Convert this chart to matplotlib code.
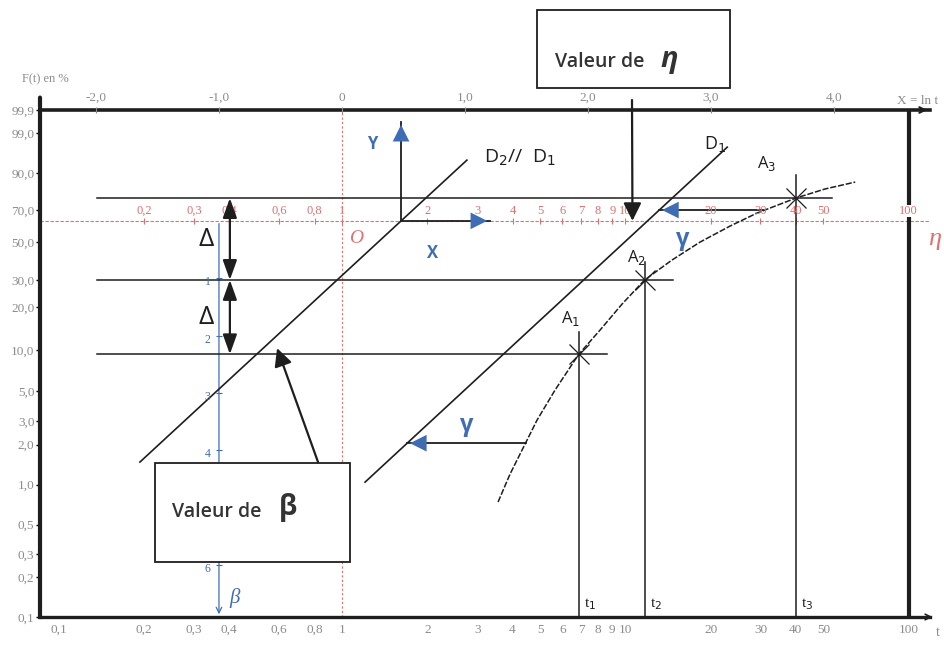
import numpy as np
import matplotlib.pyplot as plt
from matplotlib.patches import Rectangle
from matplotlib.ticker import NullLocator

plt.rcParams['font.family'] = ['Liberation Serif', 'DejaVu Serif']
plt.rcParams['mathtext.fontset'] = 'dejavusans'

GREY = '#8c8c8c'
RED = '#e07070'
BLUE = '#3f6db5'
INK = '#1e1e1e'
SANS = ['Open Sans', 'DejaVu Sans']

W, H = 944, 653


# Weibull paper: X = ln t (log axis), Y = ln(-ln(1 - F))
def weib(F):
    F = np.clip(np.asarray(F, dtype=float), 1e-6, 100 - 1e-6) / 100
    return np.log(-np.log(1 - F))


def weib_inv(Y):
    with np.errstate(over='ignore'):
        return 100 * (1 - np.exp(-np.exp(np.asarray(Y, dtype=float))))


# axis graduations
t_ticks = [0.1, 0.2, 0.3, 0.4, 0.6, 0.8, 1, 2, 3, 4, 5, 6, 7, 8, 9, 10, 20, 30, 40, 50, 100]
t_labels = ['0,1', '0,2', '0,3', '0,4', '0,6', '0,8', '1', '2', '3', '4', '5', '6', '7',
            '8', '9', '10', '20', '30', '40', '50', '100']
F_ticks = [0.1, 0.2, 0.3, 0.5, 1, 2, 3, 5, 10, 20, 30, 50, 70, 90, 99, 99.9]
F_labels = ['0,1', '0,2', '0,3', '0,5', '1,0', '2,0', '3,0', '5,0', '10,0', '20,0', '30,0',
            '50,0', '70,0', '90,0', '99,0', '99,9']
X_ticks = [-2, -1, 0, 1, 2, 3, 4]
X_labels = ['-2,0', '-1,0', '0', '1,0', '2,0', '3,0', '4,0']
eta_ticks = [0.2, 0.3, 0.4, 0.6, 0.8, 1, 2, 3, 4, 5, 6, 7, 8, 9, 10, 20, 30, 40, 50, 100]
eta_labels = ['0,2', '0,3', '0,4', '0,6', '0,8', '1', '2', '3', '4', '5', '6', '7', '8',
              '9', '10', '20', '30', '40', '50', '100']
beta_ticks = [1, 2, 3, 4, 5, 6]
beta_labels = ['1', '2', '3', '4', '', '6']   # 5 sits under the beta box

# points A1..A3 with their reading lines
A_t = [6.85, 11.7, 40.0]
A_F = [9.3, 30.0, 77.4]
A_top = [13.4, 38.6, 89.2]
guide_start = 0.136
guide_end = [8.6, 14.7, 53.7]
A_offsets = [(-6, 26), (-6, 16), (-21, 25)]

# raw curve through the points
curve_t = [3.555, 3.919, 4.356, 4.881, 5.650, 6.85, 8.147, 9.742, 11.7, 14.6, 18.37,
           23.44, 29.19, 40.0, 50.7, 64.8]
curve_F = [0.740, 1.202, 1.885, 3.053, 5.099, 9.3, 13.84, 20.90, 30.0, 39.6, 49.9,
           59.88, 68.2, 77.4, 82.5, 86.0]

# corrected line D1 and its parallel D2
D1_t = [1.206, 22.9]
D1_F = [1.045, 97.3]
D2_t = [0.1935, 2.76]
D2_F = [1.48, 94.4]

# gamma shifts (from the curve back to D1)
gamma_t = [4.45, 30.5]
gamma_F = [2.05, 70.1]

eta_F = 100 * (1 - np.exp(-1))   # 63.2 %
eta_read = 10.6
origin_t = 1.616
X_tip = 3.33
Y_tip = 99.63
beta_tip = (0.59, 10.3)
delta_t = 0.402


def d1_t_at(F):
    # position of D1 at a given F, in ln t / Y space
    y = weib(D1_F)
    lt = np.log(D1_t)
    return np.exp(lt[0] + (weib(F) - y[0]) * (lt[1] - lt[0]) / (y[1] - y[0]))


def fig_text(x, y, s, **kw):
    fig.text(x / W, 1 - y / H, s, **kw)


fig = plt.figure(figsize=(W / 100, H / 100), dpi=100)
ax = fig.add_axes([40 / W, 36 / H, 890 / W, 507 / H])
ax.set_xscale('log')
ax.set_yscale('function', functions=(weib, weib_inv))
t_lim = (0.0859, 119)
ax.set_xlim(*t_lim)
ax.set_ylim(0.1, 99.9)

ax.set_xticks(t_ticks, t_labels)
ax.set_yticks(F_ticks, F_labels)
ax.xaxis.set_minor_locator(NullLocator())
ax.yaxis.set_minor_locator(NullLocator())
ax.tick_params(axis='x', length=0, pad=5, labelsize=9.5, labelcolor=GREY)
ax.tick_params(axis='y', length=3, width=1, pad=1, labelsize=9.5, labelcolor=GREY)

ax.spines['right'].set_visible(False)
ax.spines['left'].set_linewidth(3)
ax.spines['bottom'].set_linewidth(2.4)
ax.spines['top'].set_linewidth(2.6)
for s in ['left', 'bottom', 'top']:
    ax.spines[s].set_color(INK)

# X = ln t graduation along the top line
top = ax.twiny()
top.set_xlim(np.log(t_lim[0]), np.log(t_lim[1]))
top.set_xticks(X_ticks, X_labels)
top.xaxis.set_minor_locator(NullLocator())
top.tick_params(axis='x', length=5, width=0.8, direction='inout', pad=2, labelsize=9.5,
                labelcolor=GREY, color=GREY)
for s in top.spines.values():
    s.set_visible(False)

# axis arrows and captions
ax.annotate('', xy=(1.0, 1), xytext=(0.97, 1), xycoords='axes fraction',
            arrowprops=dict(arrowstyle='->', color=INK, lw=1.5))
ax.annotate('', xy=(1.006, 0), xytext=(0.97, 0), xycoords='axes fraction',
            arrowprops=dict(arrowstyle='->', color=INK, lw=1.2))
ax.annotate('', xy=(0, 1.03), xytext=(0, 1), xycoords='axes fraction',
            arrowprops=dict(arrowstyle='-', color=INK, lw=3))
fig_text(918, 101, 'X = ln t', fontsize=9.5, color=GREY, ha='center', va='center')
fig_text(938, 633, 't', fontsize=10, color=GREY, ha='center', va='center')
fig_text(45, 79, 'F(t) en %', fontsize=9, color=GREY, ha='center', va='center')

# eta scale (red) and the t = 1 reference
ax.axhline(eta_F, color=RED, lw=0.8, ls=(0, (3, 1.5)), zorder=1)
ax.axvline(1, color=RED, lw=0.8, ls=(0, (2, 2)), zorder=1)
ax.plot(eta_ticks, [eta_F] * len(eta_ticks), ls='none', marker='|', ms=5, mew=0.8, color=RED)
for tv, lab in zip(eta_ticks, eta_labels):
    ax.annotate(lab, (tv, eta_F), xytext=(0, 7), textcoords='offset points',
                ha='center', va='center', fontsize=9, color=RED,
                bbox=dict(fc='white', ec='none', pad=0.2) if lab == '100' else None)
ax.annotate('O', (1, eta_F), xytext=(10, -13), textcoords='offset points',
            fontsize=14, style='italic', color=RED, ha='center', va='center')
ax.annotate('η', (t_lim[1], eta_F), xytext=(3, -13), textcoords='offset points',
            annotation_clip=False, fontsize=19, style='italic', color=RED,
            ha='center', va='center')

# beta scale (blue) at X = -1
beta_x = np.exp(-1)
beta_F = weib_inv(-np.array(beta_ticks, dtype=float))
ax.annotate('', xy=(beta_x, 0.1), xytext=(beta_x, eta_F),
            arrowprops=dict(arrowstyle='->', color=BLUE, lw=0.9), zorder=2)
ax.plot([beta_x] * len(beta_F), beta_F, ls='none', marker='_', ms=5, mew=0.8, color=BLUE)
for lab, fv in zip(beta_labels, beta_F):
    if lab:
        ax.annotate(lab, (beta_x, fv), xytext=(-8, -3), textcoords='offset points',
                    fontsize=8.5, color=BLUE, ha='center', va='center')
ax.annotate('β', (beta_x, 0.1), xytext=(11, 14), textcoords='offset points',
            fontsize=15, style='italic', color=BLUE, ha='center', va='center')

# bold t = 100 limit
ax.plot([100, 100], [0.1, 99.9], color=INK, lw=3, zorder=2)

# reading lines
for i in range(3):
    ax.plot([guide_start, guide_end[i]], [A_F[i], A_F[i]], color=INK, lw=1.1)
    ax.plot([A_t[i], A_t[i]], [0.1, A_top[i]], color=INK, lw=1.1)
ax.plot(A_t, A_F, ls='none', marker='x', ms=15, mew=0.9, color=INK)
ax.plot(curve_t, curve_F, color=INK, lw=1.1, ls=(0, (4, 1.2)))
ax.plot(D1_t, D1_F, color=INK, lw=1.2)
ax.plot(D2_t, D2_F, color=INK, lw=1.2)

for k, (tv, fv) in enumerate(zip(A_t, A_F)):
    ax.annotate(f'A$_{k + 1}$', (tv, fv), xytext=A_offsets[k], textcoords='offset points',
                fontsize=12, family=SANS, color=INK, ha='center', va='center')
    ax.annotate(f't$_{k + 1}$', (tv, 0.1), xytext=(8, 9), textcoords='offset points',
                fontsize=11, color=INK, ha='center', va='center')

ax.annotate('D$_1$', (D1_t[1], D1_F[1]), xytext=(-9, 2), textcoords='offset points',
            fontsize=13, family=SANS, color=INK, ha='center', va='center')
ax.annotate('D$_2$//  D$_1$', (D2_t[1], D2_F[1]), xytext=(12, 2), textcoords='offset points',
            fontsize=14, family=SANS, color=INK, ha='left', va='center')


def blue_head(tip, back):
    ax.plot([back[0], tip[0]], [back[1], tip[1]], color=INK, lw=1.3)
    dx = -14 if tip[0] > back[0] else (14 if tip[0] < back[0] else 0)
    dy = 0 if dx else -14
    ax.annotate('', xy=tip, xytext=(dx, dy), textcoords='offset points',
                arrowprops=dict(arrowstyle='-|>,head_length=0.6,head_width=0.3',
                                color=BLUE, lw=0, mutation_scale=20))


# local X / Y frame
blue_head((X_tip, eta_F), (origin_t, eta_F))
blue_head((origin_t, Y_tip), (origin_t, eta_F))
ax.annotate('Y', (origin_t, Y_tip), xytext=(-21, -16), textcoords='offset points',
            fontsize=12, weight='bold', family=SANS, color=BLUE, ha='center', va='center')
ax.annotate('X', (origin_t, eta_F), xytext=(23, -23), textcoords='offset points',
            fontsize=12, weight='bold', family=SANS, color=BLUE, ha='center', va='center')

# gamma shifts
for tv, fv, off in zip(gamma_t, gamma_F, [(-43, 13), (-58, -21)]):
    blue_head((d1_t_at(fv), fv), (tv, fv))
    ax.annotate('γ', (tv, fv), xytext=off, textcoords='offset points', fontsize=17,
                weight='bold', family=SANS, color=BLUE, ha='center', va='center')

# delta spacing arrows
for f_hi, f_lo in [(A_F[2], A_F[1]), (A_F[1], A_F[0])]:
    ax.annotate('', xy=(delta_t, f_lo), xytext=(delta_t, f_hi),
                arrowprops=dict(arrowstyle='<|-|>,head_length=0.7,head_width=0.25',
                                color=INK, lw=1.6, mutation_scale=17, shrinkA=0, shrinkB=0))
    ym = weib_inv((weib(f_hi) + weib(f_lo)) / 2)
    ax.annotate('Δ', (delta_t, ym), xytext=(-17, 0), textcoords='offset points',
                fontsize=19, family=SANS, color=INK, ha='center', va='center')

# "Valeur de beta" box
ax.add_patch(Rectangle((0.129, 0.1085), 0.219, 0.195, transform=ax.transAxes,
                       fc='white', ec=INK, lw=1.3, zorder=5))
fig_text(172, 512, 'Valeur de', fontsize=14, weight='semibold', family=SANS, color='#333333',
         ha='left', va='center', zorder=6)
fig_text(288, 508, 'β', fontsize=20, weight='bold', family=SANS, color='#333333',
         ha='center', va='center', zorder=6)
ax.annotate('', xy=beta_tip, xytext=(318, H - 462), textcoords='figure pixels',
            arrowprops=dict(arrowstyle='-|>,head_length=0.6,head_width=0.3', color=INK,
                            lw=1.6, mutation_scale=18, shrinkA=0, shrinkB=0), zorder=6)

# "Valeur de eta" box above the chart
fig.add_artist(Rectangle((537 / W, 1 - 88 / H), 193 / W, 78 / H, transform=fig.transFigure,
                         fc='white', ec=INK, lw=1.3))
fig_text(555, 62, 'Valeur de', fontsize=14, weight='semibold', family=SANS, color='#333333',
         ha='left', va='center')
fig_text(669, 60, 'η', fontsize=21, weight='bold', style='italic', family=SANS,
         color='#333333', ha='center', va='center')
ax.annotate('', xy=(eta_read, eta_F), xytext=(632, H - 100), textcoords='figure pixels',
            arrowprops=dict(arrowstyle='-|>,head_length=0.6,head_width=0.3', color=INK,
                            lw=1.6, mutation_scale=18, shrinkA=0, shrinkB=0))

fig.savefig('out.png', dpi=100)
